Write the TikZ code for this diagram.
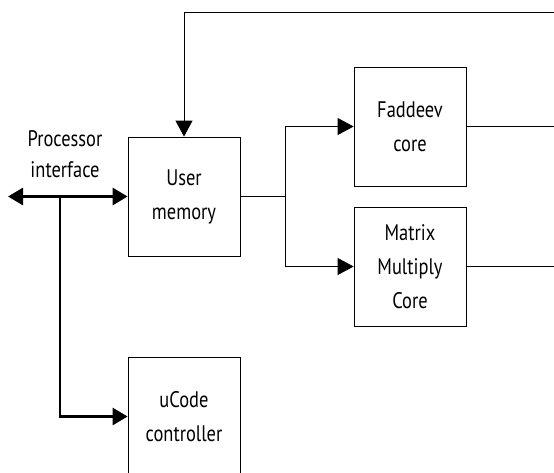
\documentclass[tikz,border=0pt]{standalone}
\usepackage{fontspec}
\setmainfont[FakeStretch=0.82]{PT Sans}
\usepackage{tikz}
\usetikzlibrary{arrows.meta}

\begin{document}
\begin{tikzpicture}[x=1pt,y=-1pt,
	block/.style={draw, line width=0.8pt, minimum width=112pt, minimum height=119pt, align=center, font=\fontsize{22.5}{34}\selectfont},
	thin/.style={line width=0.8pt, -{Triangle[length=16pt,width=17pt]}},
	bus/.style={line width=2.8pt, -{Triangle[length=15pt,width=17pt]}}]
	\useasboundingbox (0,0) rectangle (554,472);

	\node[block] (mem) at (184,196.5) {User\\memory};
	\node[block] (fad) at (410,126.5) {Faddeev\\core};
	\node[block] (mat) at (410,266.5) {Matrix\\Multiply\\Core};
	\node[block] (uc) at (184,416.5) {uCode\\controller};
	\node[align=center, font=\fontsize{22.5}{31}\selectfont] (pi) at (65,154) {Processor\\interface};

	\coordinate (top) at (554,12);
	\coordinate (fadout) at (554,126.5);
	\coordinate (matout) at (554,266.5);
	\coordinate (split) at (285,196.5);
	\coordinate (busl) at (8,196.5);
	\coordinate (bust) at (60,196.5);

	\draw [thin] (top) -| (mem.north);
	\draw [line width=0.8pt] (mem.east) -- (split);
	\draw [thin] (split) |- (fad.west);
	\draw [thin] (split) |- (mat.west);
	\draw [line width=0.8pt] (fad.east) -- (fadout);
	\draw [line width=0.8pt] (mat.east) -- (matout);
	\draw [bus, {Triangle[length=15pt,width=17pt]}-{Triangle[length=15pt,width=17pt]}] (busl) -- (mem.west);
	\draw [bus] (bust) |- (uc.west);
\end{tikzpicture}
\end{document}
